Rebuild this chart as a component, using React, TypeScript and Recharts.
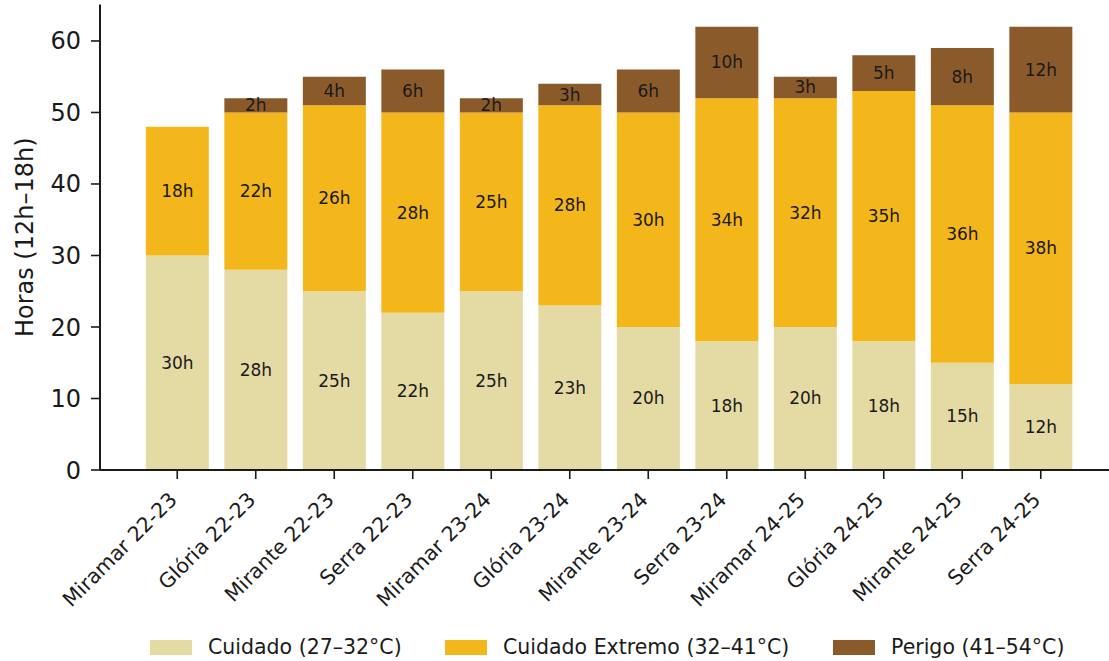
import React from 'react';
import { BarChart, Bar, XAxis, YAxis, LabelList } from 'recharts';

const categories = [
  'Miramar 22-23',
  'Glória 22-23',
  'Mirante 22-23',
  'Serra 22-23',
  'Miramar 23-24',
  'Glória 23-24',
  'Mirante 23-24',
  'Serra 23-24',
  'Miramar 24-25',
  'Glória 24-25',
  'Mirante 24-25',
  'Serra 24-25',
];
const cuidado = [30, 28, 25, 22, 25, 23, 20, 18, 20, 18, 15, 12];
const cuidadoExtremo = [18, 22, 26, 28, 25, 28, 30, 34, 32, 35, 36, 38];
const perigo = [0, 2, 4, 6, 2, 3, 6, 10, 3, 5, 8, 12];
const yTicks = [0, 10, 20, 30, 40, 50, 60];

const seriesNames = ['Cuidado (27–32°C)', 'Cuidado Extremo (32–41°C)', 'Perigo (41–54°C)'];
const seriesColors = ['#e4dba4', '#f3b71b', '#8b5a2b'];

const data = categories.map((name, i) => ({
  name,
  cuidado: cuidado[i],
  extremo: cuidadoExtremo[i],
  perigo: perigo[i],
}));

const FONT = '"DejaVu Sans", sans-serif';
const INK = '#1a1a1a';

const centerLabel = (props: any) => {
  const { x, y, width, height, value } = props;
  if (!value) return null;
  return (
    <text
      x={Number(x) + Number(width) / 2}
      y={Number(y) + Number(height) / 2}
      textAnchor='middle'
      dominantBaseline='central'
      fontSize={17}
      fontFamily={FONT}
      fill={INK}
    >
      {value}h
    </text>
  );
};

const XTick = (props: any) => {
  const { x, y, payload } = props;
  const ax = x + 1;
  const ay = y + 20;
  return (
    <text
      x={ax}
      y={ay}
      textAnchor='end'
      transform={`rotate(-45, ${ax}, ${ay})`}
      fontSize={20.5}
      fontFamily={FONT}
      fill={INK}
    >
      {payload.value}
    </text>
  );
};

const YLabel = (props: any) => {
  const { viewBox } = props;
  const cy = viewBox.y + viewBox.height / 2;
  return (
    <text
      x={25}
      y={cy}
      textAnchor='middle'
      dominantBaseline='central'
      transform={`rotate(-90, 25, ${cy})`}
      fontSize={24}
      fontFamily={FONT}
      fill={INK}
    >
      Horas (12h–18h)
    </text>
  );
};

const legendSwatchX = [150, 445, 833];

export default function App() {
  return (
    <div
      style={{
        position: 'absolute',
        left: 0,
        top: 0,
        width: 1109,
        height: 661,
        overflow: 'hidden',
        background: '#fff',
        fontFamily: FONT,
      }}
    >
      <BarChart
        width={1130}
        height={661}
        data={data}
        margin={{ top: 4.5, right: 12, bottom: 0, left: 0 }}
        barCategoryGap='10%'
      >
        <XAxis
          dataKey='name'
          interval={0}
          padding={{ left: 38, right: 38 }}
          height={191}
          tickSize={9}
          tickMargin={2}
          tick={<XTick />}
          tickLine={{ stroke: INK, strokeWidth: 1.6 }}
          axisLine={{ stroke: INK, strokeWidth: 2 }}
        />
        <XAxis
          xAxisId='top'
          orientation='top'
          dataKey='name'
          height={0}
          tick={false}
          tickLine={false}
          axisLine={{ stroke: INK, strokeWidth: 2 }}
        />
        <YAxis
          domain={[0, 65.1]}
          ticks={yTicks}
          width={100}
          tickSize={9}
          tickMargin={10}
          tick={{ fontSize: 24, fontFamily: FONT, fill: INK }}
          tickLine={{ stroke: INK, strokeWidth: 1.6 }}
          axisLine={{ stroke: INK, strokeWidth: 2 }}
          label={<YLabel />}
        />
        <YAxis
          yAxisId='right'
          orientation='right'
          width={0}
          tick={false}
          tickLine={false}
          axisLine={{ stroke: INK, strokeWidth: 2 }}
        />
        <Bar dataKey='cuidado' stackId='a' fill={seriesColors[0]} isAnimationActive={false}>
          <LabelList dataKey='cuidado' content={centerLabel} />
        </Bar>
        <Bar dataKey='extremo' stackId='a' fill={seriesColors[1]} isAnimationActive={false}>
          <LabelList dataKey='extremo' content={centerLabel} />
        </Bar>
        <Bar dataKey='perigo' stackId='a' fill={seriesColors[2]} isAnimationActive={false}>
          <LabelList dataKey='perigo' content={centerLabel} />
        </Bar>
      </BarChart>
      {seriesNames.map((name, i) => (
        <div
          key={name}
          style={{
            position: 'absolute',
            left: legendSwatchX[i],
            top: 633,
            height: 28,
            display: 'flex',
            alignItems: 'center',
            whiteSpace: 'nowrap',
          }}
        >
          <span
            style={{
              display: 'inline-block',
              width: 42,
              height: 15,
              background: seriesColors[i],
              marginRight: 16,
            }}
          />
          <span style={{ fontSize: 20.5, color: INK }}>{name}</span>
        </div>
      ))}
    </div>
  );
}
